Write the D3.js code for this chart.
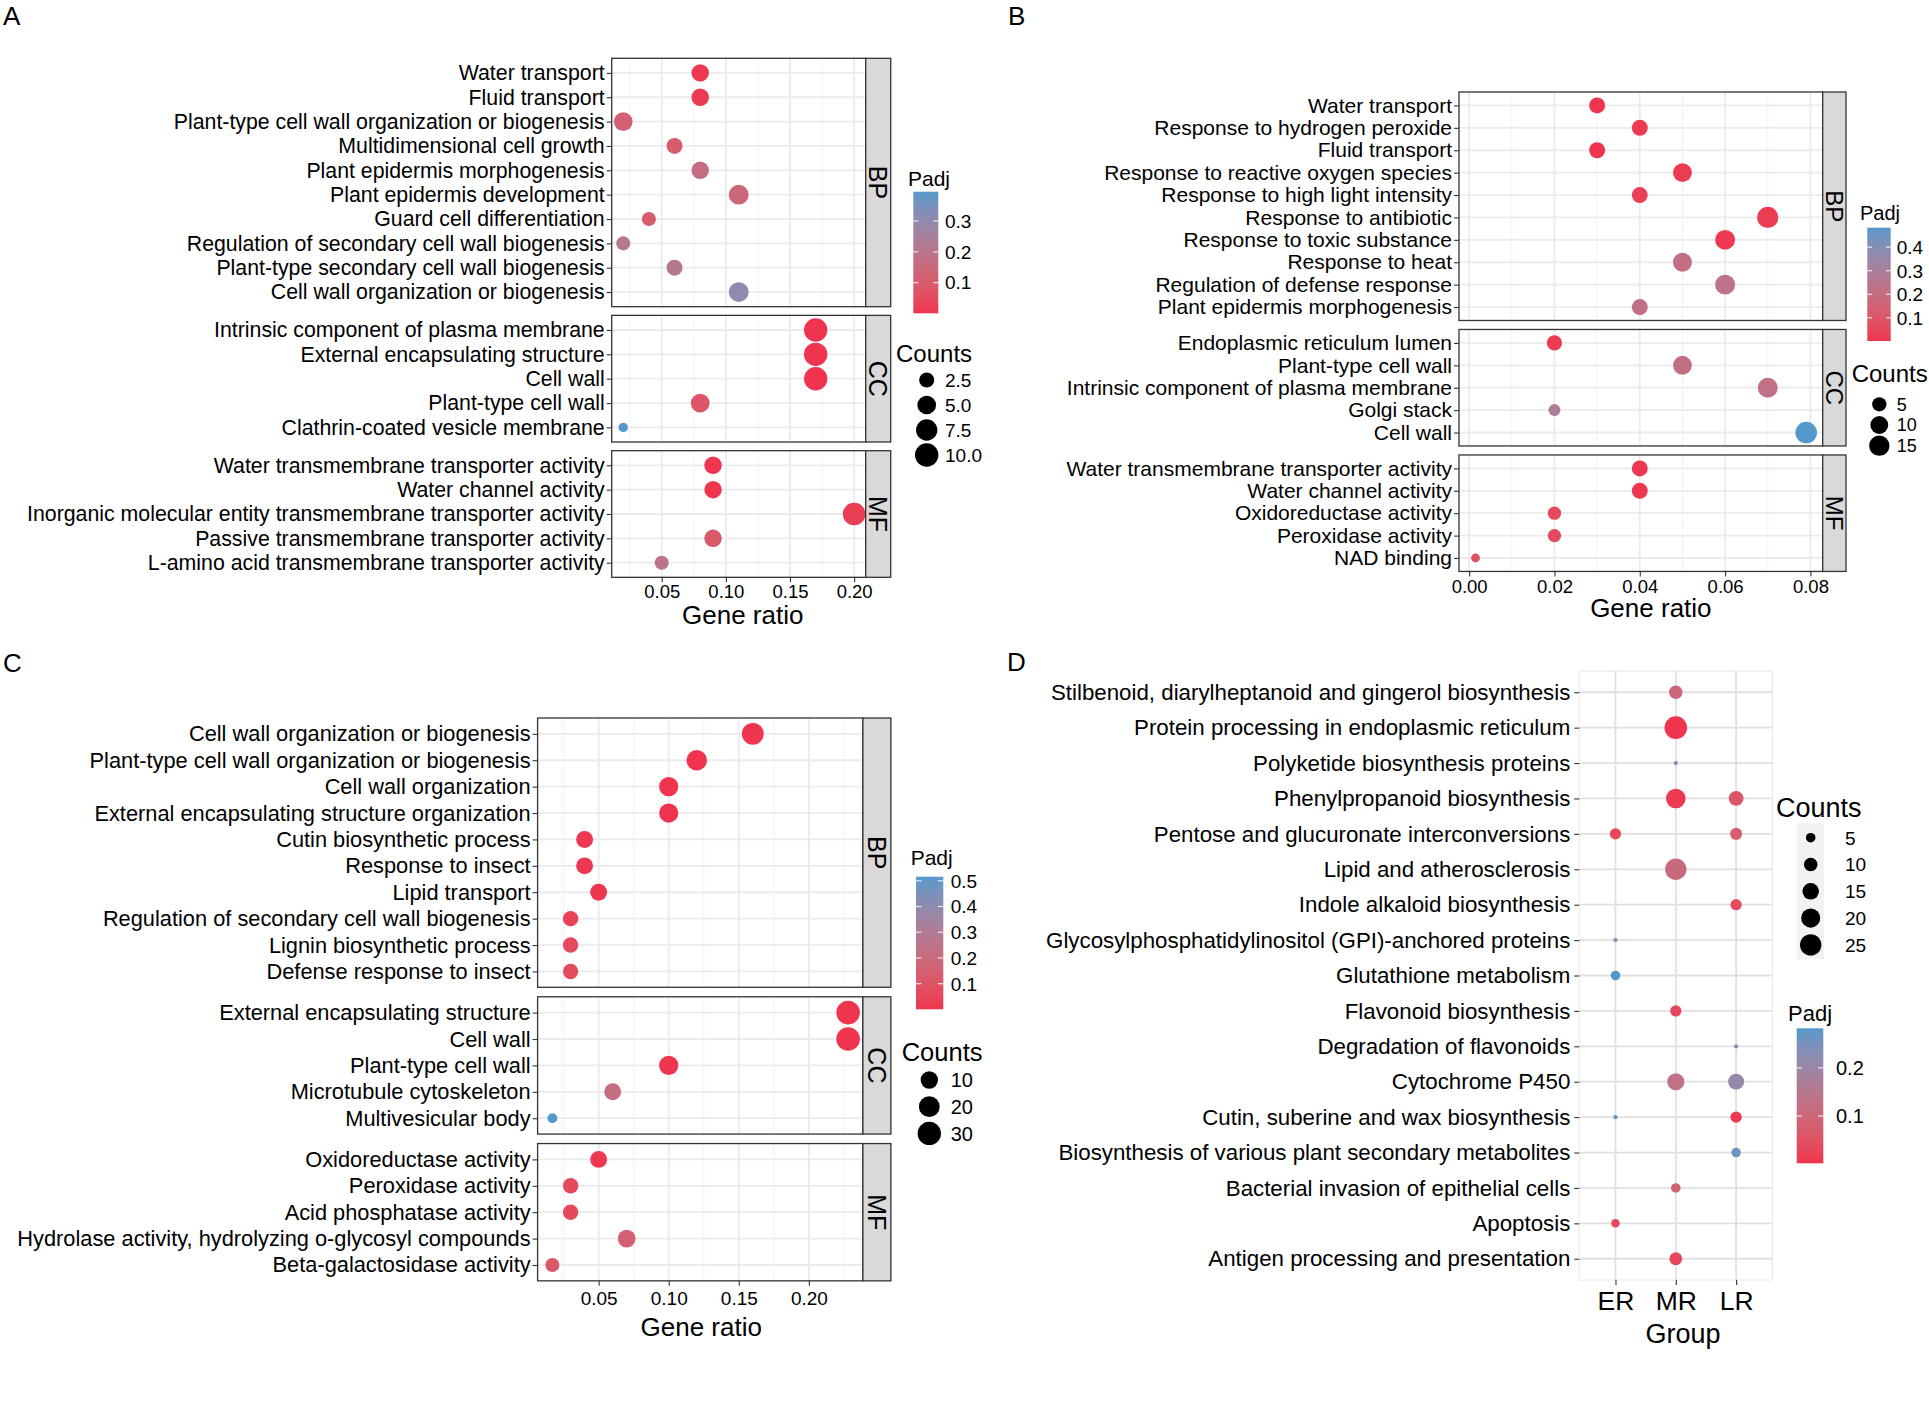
<!DOCTYPE html>
<html>
<head>
<meta charset="utf-8">
<title>Enrichment dot plots</title>
<script src="https://cdn.jsdelivr.net/npm/d3@7/dist/d3.min.js"></script>
<style>
  body { margin: 0; background: #fff; }
  svg text { font-family: "Liberation Sans", Arial, Helvetica, sans-serif; fill: #000; }
</style>
</head>
<body>
<svg id="fig" width="1929" height="1415"></svg>
<script>
// ---------- panel A ----------
const aBP = ['Water transport', 'Fluid transport', 'Plant-type cell wall organization or biogenesis',
  'Multidimensional cell growth', 'Plant epidermis morphogenesis', 'Plant epidermis development',
  'Guard cell differentiation', 'Regulation of secondary cell wall biogenesis',
  'Plant-type secondary cell wall biogenesis', 'Cell wall organization or biogenesis'];
const aCC = ['Intrinsic component of plasma membrane', 'External encapsulating structure', 'Cell wall',
  'Plant-type cell wall', 'Clathrin-coated vesicle membrane'];
const aMF = ['Water transmembrane transporter activity', 'Water channel activity',
  'Inorganic molecular entity transmembrane transporter activity',
  'Passive transmembrane transporter activity', 'L-amino acid transmembrane transporter activity'];
const aRatio = [0.08, 0.08, 0.02, 0.06, 0.08, 0.11, 0.04, 0.02, 0.06, 0.11,
  0.17, 0.17, 0.17, 0.08, 0.02,
  0.09, 0.09, 0.20, 0.09, 0.05];
const aCount = [4, 4, 5, 3, 4, 6, 2, 2, 3, 6,
  10, 10, 10, 5, 1,
  4, 4, 9, 4, 2];
const aPadj = [0.012, 0.012, 0.12, 0.10, 0.16, 0.14, 0.10, 0.21, 0.21, 0.30,
  0.003, 0.003, 0.0005, 0.08, 0.395,
  0.006, 0.006, 0.02, 0.09, 0.19];
const aTicks = [0.05, 0.10, 0.15, 0.20];
const aPadjTicks = [0.1, 0.2, 0.3];
const aCountTicks = [2.5, 5, 7.5, 10];

// ---------- panel B ----------
const bBP = ['Water transport', 'Response to hydrogen peroxide', 'Fluid transport',
  'Response to reactive oxygen species', 'Response to high light intensity', 'Response to antibiotic',
  'Response to toxic substance', 'Response to heat', 'Regulation of defense response',
  'Plant epidermis morphogenesis'];
const bCC = ['Endoplasmic reticulum lumen', 'Plant-type cell wall', 'Intrinsic component of plasma membrane',
  'Golgi stack', 'Cell wall'];
const bMF = ['Water transmembrane transporter activity', 'Water channel activity', 'Oxidoreductase activity',
  'Peroxidase activity', 'NAD binding'];
const bRatio = [0.03, 0.04, 0.03, 0.05, 0.04, 0.07, 0.06, 0.05, 0.06, 0.04,
  0.02, 0.05, 0.07, 0.02, 0.079,
  0.04, 0.04, 0.02, 0.02, 0.0015];
const bCount = [7, 7, 7, 12, 7, 17, 14, 12, 14, 7,
  6, 12, 14, 3, 18,
  7, 7, 4, 4, 2];
const bPadj = [0.001, 0.02, 0.004, 0.02, 0.03, 0.02, 0.015, 0.21, 0.23, 0.21,
  0.02, 0.21, 0.22, 0.29, 0.483,
  0.01, 0.01, 0.06, 0.06, 0.08];
const bTicks = [0.00, 0.02, 0.04, 0.06, 0.08];
const bPadjTicks = [0.1, 0.2, 0.3, 0.4];
const bCountTicks = [5, 10, 15];

// ---------- panel C ----------
const cBP = ['Cell wall organization or biogenesis', 'Plant-type cell wall organization or biogenesis',
  'Cell wall organization', 'External encapsulating structure organization', 'Cutin biosynthetic process',
  'Response to insect', 'Lipid transport', 'Regulation of secondary cell wall biogenesis',
  'Lignin biosynthetic process', 'Defense response to insect'];
const cCC = ['External encapsulating structure', 'Cell wall', 'Plant-type cell wall',
  'Microtubule cytoskeleton', 'Multivesicular body'];
const cMF = ['Oxidoreductase activity', 'Peroxidase activity', 'Acid phosphatase activity',
  'Hydrolase activity, hydrolyzing o-glycosyl compounds', 'Beta-galactosidase activity'];
const cRatio = [0.16, 0.12, 0.10, 0.10, 0.04, 0.04, 0.05, 0.03, 0.03, 0.03,
  0.228, 0.228, 0.10, 0.06, 0.017,
  0.05, 0.03, 0.03, 0.07, 0.017];
const cCount = [24, 19, 15, 15, 9, 9, 9, 6, 6, 6,
  31, 31, 15, 9, 1,
  9, 6, 6, 11, 4];
const cPadj = [0.005, 0.003, 0.002, 0.002, 0.01, 0.01, 0.008, 0.04, 0.06, 0.07,
  0.0005, 0.0005, 0.004, 0.22, 0.516,
  0.01, 0.06, 0.06, 0.15, 0.12];
const cTicks = [0.05, 0.10, 0.15, 0.20];
const cPadjTicks = [0.1, 0.2, 0.3, 0.4, 0.5];
const cCountTicks = [10, 20, 30];

// ---------- panel D ----------
const dTerms = ['Stilbenoid, diarylheptanoid and gingerol biosynthesis',
  'Protein processing in endoplasmic reticulum', 'Polyketide biosynthesis proteins',
  'Phenylpropanoid biosynthesis', 'Pentose and glucuronate interconversions', 'Lipid and atherosclerosis',
  'Indole alkaloid biosynthesis', 'Glycosylphosphatidylinositol (GPI)-anchored proteins',
  'Glutathione metabolism', 'Flavonoid biosynthesis', 'Degradation of flavonoids', 'Cytochrome P450',
  'Cutin, suberine and wax biosynthesis', 'Biosynthesis of various plant secondary metabolites',
  'Bacterial invasion of epithelial cells', 'Apoptosis', 'Antigen processing and presentation'];
const dGroups = ['ER', 'MR', 'LR'];
const dCountER = [null, null, null, null, 7, null, null, 1, 5, null, null, null, 1, null, null, 4, null];
const dCountMR = [10, 28, 1, 21, null, 25, null, null, null, 7, null, 16, null, null, 5, null, 9];
const dCountLR = [null, null, null, 12, 8, null, 7, null, null, null, 1, 14, 7, 5, null, null, null];
const dPadjER = [null, null, null, null, 0.03, null, null, 0.24, 0.282, null, null, null, 0.27, null, null, 0.03, null];
const dPadjMR = [0.1, 0.002, 0.22, 0.01, null, 0.11, null, null, null, 0.03, null, 0.13, null, null, 0.09, null, 0.03];
const dPadjLR = [null, null, null, 0.06, 0.08, null, 0.04, null, null, null, 0.22, 0.21, 0.01, 0.26, null, null, null];
const dPadjTicks = [0.1, 0.2];
const dCountTicks = [5, 10, 15, 20, 25];

// ---------- drawing ----------
const LOW = '#F0334F', HIGH = '#5599CC';
const svg = d3.select('#fig');
const defs = svg.append('defs');
svg.append('rect').attr('width', 1929).attr('height', 1415).attr('fill', '#fff');

function sizeFn(counts, rmin, rmax) {
  const t = d3.scaleLinear().domain(d3.extent(counts)).range([0, 1]).clamp(true);
  return c => rmin + (rmax - rmin) * Math.sqrt(t(c));
}

function padjColour(values) {
  return d3.scaleLinear().domain(d3.extent(values)).range([LOW, HIGH]).interpolate(d3.interpolateLab);
}

function styleAxis(ax, fs) {
  ax.attr('font-size', fs).attr('font-family', null);
  ax.select('.domain').remove();
  ax.selectAll('.tick line').attr('stroke', '#333').attr('stroke-width', 1.1);
  ax.selectAll('.tick text').attr('fill', '#000');
}

function drawColourbar(colour, ticks, L, id) {
  const g = svg.append('g');
  const [lo, hi] = colour.domain();
  const grad = defs.append('linearGradient').attr('id', id)
    .attr('x1', 0).attr('y1', 1).attr('x2', 0).attr('y2', 0);
  d3.range(0, 21).forEach(i => {
    grad.append('stop').attr('offset', i / 20).attr('stop-color', colour(lo + (hi - lo) * i / 20));
  });
  const y = d3.scaleLinear().domain([lo, hi]).range([L.y + L.h, L.y]);
  g.append('text').attr('x', L.titleX).attr('y', L.titleY).attr('font-size', L.titleFs).text('Padj');
  g.append('rect').attr('x', L.x).attr('y', L.y).attr('width', L.w).attr('height', L.h)
    .attr('fill', `url(#${id})`);
  ticks.forEach(v => {
    [[L.x, L.x + L.w / 5], [L.x + L.w * 4 / 5, L.x + L.w]].forEach(([x1, x2]) =>
      g.append('line').attr('x1', x1).attr('x2', x2).attr('y1', y(v)).attr('y2', y(v))
        .attr('stroke', '#fff').attr('stroke-width', 1.2).attr('stroke-opacity', 0.8));
    g.append('text').attr('x', L.labelX).attr('y', y(v)).attr('dy', '0.36em')
      .attr('font-size', L.fs).text(d3.format('.1f')(v));
  });
}

function drawSizeLegend(rOf, ticks, fmt, L) {
  const g = svg.append('g');
  g.append('text').attr('x', L.titleX).attr('y', L.titleY).attr('font-size', L.titleFs).text('Counts');
  if (L.keyBg) {
    g.append('rect').attr('x', L.keyBg[0]).attr('y', L.keyBg[1]).attr('width', L.keyBg[2])
      .attr('height', L.keyBg[3]).attr('fill', '#f2f2f2');
  }
  ticks.forEach((v, i) => {
    const cy = L.cy0 + i * L.dy;
    g.append('circle').attr('cx', L.cx).attr('cy', cy).attr('r', rOf(v)).attr('fill', '#000');
    g.append('text').attr('x', L.labelX).attr('y', cy).attr('dy', '0.36em')
      .attr('font-size', L.fs).text(fmt(v));
  });
}

function facetChart(L, facets, ratio, count, padj, xTicks, rOf, colour) {
  const g = svg.append('g');
  const [lo, hi] = d3.extent(ratio);
  const pad = (hi - lo) * 0.05;
  const x = d3.scaleLinear().domain([lo - pad, hi + pad]).range([L.left, L.right]);
  const step = xTicks[1] - xTicks[0];
  const minor = d3.range(xTicks[0] - step / 2, x.domain()[1], step).filter(v => v >= x.domain()[0]);

  let top = L.top, k = 0, lastBottom = 0;
  facets.forEach(f => {
    const n = f.terms.length;
    const bottom = top + L.step * (n - 1 + 1.2);
    const y = d3.scalePoint().domain(f.terms).range([top, bottom]).padding(0.6);
    const rows = f.terms.map((t, i) => ({ t, ratio: ratio[k + i], count: count[k + i], padj: padj[k + i] }));
    const p = g.append('g');
    p.append('rect').attr('x', L.left).attr('y', top).attr('width', L.right - L.left)
      .attr('height', bottom - top).attr('fill', '#fff');
    p.selectAll('line.minor').data(minor).join('line').attr('class', 'minor')
      .attr('x1', d => x(d)).attr('x2', d => x(d)).attr('y1', top).attr('y2', bottom)
      .attr('stroke', '#f2f2f2').attr('stroke-width', 1);
    p.selectAll('line.major').data(xTicks).join('line').attr('class', 'major')
      .attr('x1', d => x(d)).attr('x2', d => x(d)).attr('y1', top).attr('y2', bottom)
      .attr('stroke', '#ebebeb').attr('stroke-width', 1.8);
    p.selectAll('line.row').data(f.terms).join('line').attr('class', 'row')
      .attr('x1', L.left).attr('x2', L.right).attr('y1', d => y(d)).attr('y2', d => y(d))
      .attr('stroke', '#ebebeb').attr('stroke-width', 1.8);
    p.selectAll('circle').data(rows).join('circle')
      .attr('cx', d => x(d.ratio)).attr('cy', d => y(d.t)).attr('r', d => rOf(d.count))
      .attr('fill', d => colour(d.padj));
    p.append('rect').attr('x', L.left).attr('y', top).attr('width', L.right - L.left)
      .attr('height', bottom - top).attr('fill', 'none').attr('stroke', '#333').attr('stroke-width', 1.3);
    p.append('rect').attr('x', L.right).attr('y', top).attr('width', L.stripW)
      .attr('height', bottom - top).attr('fill', '#d9d9d9').attr('stroke', '#333').attr('stroke-width', 1.3);
    p.append('text')
      .attr('transform', `translate(${L.right + L.stripW / 2},${(top + bottom) / 2}) rotate(90)`)
      .attr('text-anchor', 'middle').attr('dy', '0.36em').attr('font-size', L.stripFs)
      .attr('fill', '#1a1a1a').text(f.name);
    const ay = p.append('g').attr('transform', `translate(${L.left},0)`)
      .call(d3.axisLeft(y).tickSize(5).tickPadding(2).tickSizeOuter(0));
    styleAxis(ay, L.labelFs);
    k += n;
    lastBottom = bottom;
    top = bottom + L.gap;
  });

  const ax = g.append('g').attr('transform', `translate(0,${lastBottom})`)
    .call(d3.axisBottom(x).tickValues(xTicks).tickFormat(d3.format('.2f'))
      .tickSize(5).tickPadding(L.tickPad).tickSizeOuter(0));
  styleAxis(ax, L.tickFs);
  g.append('text').attr('x', (L.left + L.right) / 2 + L.titleShift).attr('y', lastBottom + L.titleDy)
    .attr('text-anchor', 'middle').attr('font-size', 26).text('Gene ratio');
}

function dotMatrix(L) {
  const g = svg.append('g');
  const x = d3.scalePoint().domain(dGroups).range([L.left, L.right]).padding(0.6);
  const y = d3.scalePoint().domain(dTerms).range([L.top, L.bottom]).padding(0.6);
  const counts = { ER: dCountER, MR: dCountMR, LR: dCountLR };
  const padjs = { ER: dPadjER, MR: dPadjMR, LR: dPadjLR };
  const pts = [];
  dGroups.forEach(gr => dTerms.forEach((t, i) => {
    if (counts[gr][i] != null) pts.push({ t, gr, c: counts[gr][i], p: padjs[gr][i] });
  }));
  const colour = padjColour(pts.map(d => d.p));
  const r = d3.scaleSqrt().domain([0, d3.max(pts, d => d.c)]).range([0, L.rmax]);

  g.append('rect').attr('x', L.left).attr('y', L.top).attr('width', L.right - L.left)
    .attr('height', L.bottom - L.top).attr('fill', '#fff');
  g.selectAll('line.vx').data(dGroups).join('line').attr('class', 'vx')
    .attr('x1', d => x(d)).attr('x2', d => x(d)).attr('y1', L.top).attr('y2', L.bottom)
    .attr('stroke', '#e0e0e0').attr('stroke-width', 1.8);
  g.selectAll('line.hy').data(dTerms).join('line').attr('class', 'hy')
    .attr('x1', L.left).attr('x2', L.right).attr('y1', d => y(d)).attr('y2', d => y(d))
    .attr('stroke', '#e0e0e0').attr('stroke-width', 1.8);
  g.selectAll('circle').data(pts).join('circle')
    .attr('cx', d => x(d.gr)).attr('cy', d => y(d.t)).attr('r', d => r(d.c)).attr('fill', d => colour(d.p));
  g.append('rect').attr('x', L.left).attr('y', L.top).attr('width', L.right - L.left)
    .attr('height', L.bottom - L.top).attr('fill', 'none').attr('stroke', '#e6e6e6').attr('stroke-width', 1);

  const ay = g.append('g').attr('transform', `translate(${L.left},0)`)
    .call(d3.axisLeft(y).tickSize(5).tickPadding(4).tickSizeOuter(0));
  styleAxis(ay, L.labelFs);
  const ax = g.append('g').attr('transform', `translate(0,${L.bottom})`)
    .call(d3.axisBottom(x).tickSize(5).tickPadding(L.tickPad).tickSizeOuter(0));
  styleAxis(ax, L.tickFs);
  g.append('text').attr('x', L.titleX).attr('y', L.titleY).attr('text-anchor', 'middle')
    .attr('font-size', 27).text('Group');
  return { colour, r };
}

// panel letters
[['A', 3, 25], ['B', 1008, 25], ['C', 3, 672], ['D', 1007, 671]].forEach(([s, px, py]) =>
  svg.append('text').attr('x', px).attr('y', py).attr('font-size', 26).text(s));

// A
const colA = padjColour(aPadj), rA = sizeFn(aCount, 4.7, 11.7);
facetChart({ left: 611.7, right: 865.7, stripW: 25, top: 58.3, step: 24.35, gap: 8.7,
  labelFs: 21.3, tickFs: 18.5, stripFs: 25, tickPad: 3, titleDy: 47, titleShift: 4 },
  [{ name: 'BP', terms: aBP }, { name: 'CC', terms: aCC }, { name: 'MF', terms: aMF }],
  aRatio, aCount, aPadj, aTicks, rA, colA);
drawColourbar(colA, aPadjTicks, { titleX: 908, titleY: 186, titleFs: 21, x: 913.3, y: 191.7, w: 25, h: 121.6,
  labelX: 945, fs: 19 }, 'gradA');
drawSizeLegend(rA, aCountTicks, d3.format('.1f'), { titleX: 896, titleY: 362, titleFs: 24,
  cx: 926.7, cy0: 380, dy: 25, labelX: 945, fs: 19 });

// B
const colB = padjColour(bPadj), rB = sizeFn(bCount, 4.4, 10.8);
facetChart({ left: 1459, right: 1822.7, stripW: 23.3, top: 92, step: 22.4, gap: 9,
  labelFs: 21, tickFs: 18.5, stripFs: 24, tickPad: 3, titleDy: 46, titleShift: 10 },
  [{ name: 'BP', terms: bBP }, { name: 'CC', terms: bCC }, { name: 'MF', terms: bMF }],
  bRatio, bCount, bPadj, bTicks, rB, colB);
drawColourbar(colB, bPadjTicks, { titleX: 1860, titleY: 220, titleFs: 20, x: 1867.3, y: 227.7, w: 23.4, h: 113.3,
  labelX: 1896.7, fs: 19 }, 'gradB');
drawSizeLegend(rB, bCountTicks, d3.format('d'), { titleX: 1851.7, titleY: 382.3, titleFs: 24,
  cx: 1879.3, cy0: 404.3, dy: 20.7, labelX: 1896.7, fs: 18 });

// C
const colC = padjColour(cPadj), rC = sizeFn(cCount, 4.9, 11.8);
facetChart({ left: 537.6, right: 862.9, stripW: 28, top: 718, step: 26.4, gap: 9.5,
  labelFs: 21.8, tickFs: 19, stripFs: 25, tickPad: 6, titleDy: 55, titleShift: 1 },
  [{ name: 'BP', terms: cBP }, { name: 'CC', terms: cCC }, { name: 'MF', terms: cMF }],
  cRatio, cCount, cPadj, cTicks, rC, colC);
drawColourbar(colC, cPadjTicks, { titleX: 910.7, titleY: 865, titleFs: 21, x: 916, y: 876.7, w: 27.3, h: 132.6,
  labelX: 950.7, fs: 19 }, 'gradC');
drawSizeLegend(rC, cCountTicks, d3.format('d'), { titleX: 901.7, titleY: 1060.7, titleFs: 25.5,
  cx: 929.3, cy0: 1080, dy: 26.7, labelX: 950.7, fs: 20 });

// D
const dRes = dotMatrix({ left: 1579.3, right: 1772.3, top: 671, bottom: 1280, labelFs: 22.3, tickFs: 26.5,
  tickPad: 6, titleX: 1683, titleY: 1343, rmax: 11.3 });
drawSizeLegend(dRes.r, dCountTicks, d3.format('d'), { titleX: 1776, titleY: 817.3, titleFs: 27,
  cx: 1810.7, cy0: 837.7, dy: 26.8, labelX: 1845, fs: 19, keyBg: [1796.7, 823.3, 27.3, 136] });
drawColourbar(dRes.colour, dPadjTicks, { titleX: 1788, titleY: 1020.7, titleFs: 22, x: 1796.7, y: 1028.3,
  w: 26.6, h: 135, labelX: 1836, fs: 20 }, 'gradD');
</script>
</body>
</html>
